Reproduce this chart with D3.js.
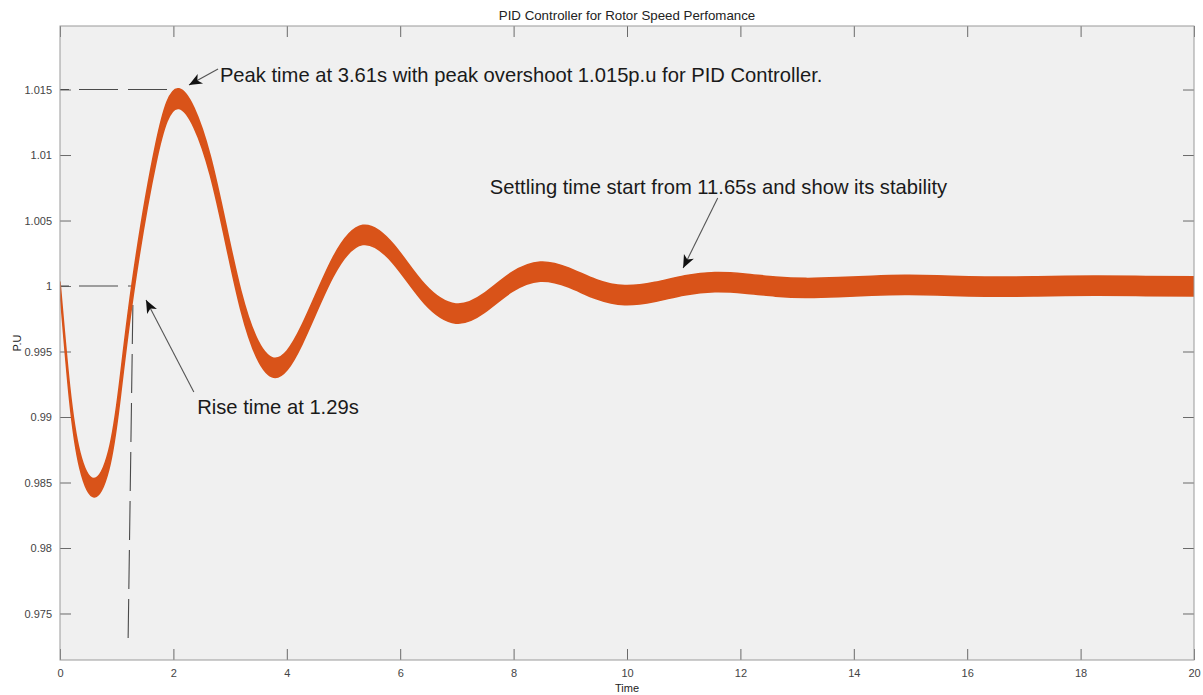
<!DOCTYPE html>
<html>
<head>
<meta charset="utf-8">
<script src="https://cdn.jsdelivr.net/npm/d3@7"></script>
<style>
  body { margin: 0; background: #fff; }
  svg { display: block; font-family: "Liberation Sans", Arial, Helvetica, sans-serif; }
</style>
</head>
<body>
<svg id="chart" width="1203" height="695"></svg>
<script>
// rotor speed response (p.u): band centre and half thickness
var timeS = [0, 0.17, 0.35, 0.6, 0.86, 1.05, 1.29, 1.69, 2.1, 2.65, 3.19, 3.74, 4.27, 4.81, 5.34,
  5.89, 6.43, 6.98, 7.48, 7.97, 8.47, 8.97, 9.46, 9.96, 10.49, 11.02, 11.55, 12.08, 12.62, 13.15,
  13.73, 14.32, 14.9, 15.47, 16.03, 16.6, 17.17, 17.73, 18.3, 19.15, 20];
var speedPU = [1.0, 0.9918, 0.9867, 0.9846, 0.9867, 0.9918, 1.0, 1.0101, 1.0143, 1.0092, 0.9989, 0.9938, 0.9963, 1.0014, 1.0039,
  1.0024, 0.9994, 0.9979, 0.9987, 1.0003, 1.0011, 1.00065, 0.99975, 0.9993, 0.99955, 1.00005, 1.0003, 1.00019, 0.99996, 0.99985,
  0.99991, 1.00002, 1.00008, 1.00005, 0.99998, 0.99995, 0.99997, 1.00001, 1.00003, 1.0, 0.99998];
var bandPU = [0.0003, 0.0005, 0.0006, 0.0007, 0.00072, 0.00073, 0.00073, 0.00073, 0.00075, 0.00073, 0.00073, 0.00073, 0.00073, 0.00073, 0.00073,
  0.00073, 0.00073, 0.00073, 0.00073, 0.00073, 0.00073, 0.00073, 0.00073, 0.00073, 0.00073, 0.00073, 0.00073, 0.00073, 0.00073, 0.00073,
  0.00073, 0.00073, 0.00073, 0.00073, 0.00073, 0.00073, 0.00073, 0.00073, 0.00073, 0.00073, 0.00073];

var xTicks = [0, 2, 4, 6, 8, 10, 12, 14, 16, 18, 20];
var yTicks = [0.975, 0.98, 0.985, 0.99, 0.995, 1, 1.005, 1.01, 1.015];

var noteText = [
  "Peak time at 3.61s with peak overshoot 1.015p.u for PID Controller.",
  "Settling time start from 11.65s and show its stability",
  "Rise time at 1.29s"
];
var noteAt = [[2.82, 1.01557], [7.58, 1.00702], [2.42, 0.99023]];
var arrowFrom = [[2.787, 1.01657], [11.6, 1.00672], [2.36, 0.99191]];
var arrowTo = [[2.275, 1.01534], [10.99, 1.00137], [1.517, 0.99893]];

// dashed guides: peak level, 1 p.u level, rise time
var guides = [
  [[0, 1.015], [2.06, 1.015]],
  [[0, 1.0], [1.25, 1.0]],
  [[1.29, 1.0], [1.2, 0.9726]]
];

var svg = d3.select("#chart");
var mLeft = 60, mTop = 26, W = 1134, H = 634;

var x = d3.scaleLinear().domain([0, 20]).range([mLeft, mLeft + W]);
var y = d3.scaleLinear().domain([0.97145, 1.01985]).range([mTop + H, mTop]);

svg.append("rect")
  .attr("x", mLeft).attr("y", mTop).attr("width", W).attr("height", H)
  .attr("fill", "#f0f0f0");

var defs = svg.append("defs");
defs.append("clipPath").attr("id", "plotclip")
  .append("rect").attr("x", mLeft).attr("y", mTop).attr("width", W).attr("height", H);

defs.append("marker")
  .attr("id", "head")
  .attr("viewBox", "-14 -7 16 14")
  .attr("markerWidth", 16).attr("markerHeight", 14)
  .attr("markerUnits", "userSpaceOnUse")
  .attr("refX", 0).attr("refY", 0)
  .attr("orient", "auto")
  .append("path")
  .attr("d", "M0,0 L-13,-5.5 L-9.5,0 L-13,5.5 Z")
  .attr("fill", "#111");

var tickCol = "#6a6a6a", labelCol = "#444";

function styleAxis(g) {
  g.select(".domain").remove();
  g.selectAll(".tick line").attr("stroke", tickCol);
  g.selectAll(".tick text").attr("fill", labelCol).style("font-size", "11px");
}

svg.append("g")
  .attr("transform", "translate(0," + (mTop + H) + ")")
  .call(d3.axisBottom(x).tickValues(xTicks).tickSizeInner(-11).tickSizeOuter(0).tickPadding(9)
    .tickFormat(d3.format("d")))
  .call(styleAxis);

svg.append("g")
  .attr("transform", "translate(0," + mTop + ")")
  .call(d3.axisTop(x).tickValues(xTicks).tickSizeInner(-11).tickSizeOuter(0).tickFormat(""))
  .call(styleAxis);

svg.append("g")
  .attr("transform", "translate(" + mLeft + ",0)")
  .call(d3.axisLeft(y).tickValues(yTicks).tickSizeInner(-11).tickSizeOuter(0).tickPadding(8)
    .tickFormat(function(d) { return String(+d.toFixed(3)); }))
  .call(styleAxis);

svg.append("g")
  .attr("transform", "translate(" + (mLeft + W) + ",0)")
  .call(d3.axisRight(y).tickValues(yTicks).tickSizeInner(-11).tickSizeOuter(0).tickFormat(""))
  .call(styleAxis);

// dashed guides
svg.append("g")
  .selectAll("line")
  .data(guides)
  .enter().append("line")
  .attr("x1", function(d) { return x(d[0][0]); })
  .attr("y1", function(d) { return y(d[0][1]); })
  .attr("x2", function(d) { return x(d[1][0]); })
  .attr("y2", function(d) { return y(d[1][1]); })
  .attr("stroke", "#4a4a4a")
  .attr("stroke-width", 1.1)
  .attr("stroke-dasharray", "39,10")
  .attr("stroke-dashoffset", 30);

// the response band
var pts = timeS.map(function(t, i) { return { t: t, v: speedPU[i], h: bandPU[i] }; });

var band = d3.area()
  .curve(d3.curveNatural)
  .x(function(d) { return x(d.t); })
  .y0(function(d) { return y(d.v - d.h); })
  .y1(function(d) { return y(d.v + d.h); });

svg.append("path")
  .datum(pts)
  .attr("clip-path", "url(#plotclip)")
  .attr("d", band)
  .attr("fill", "#d95319")
  .attr("stroke", "#d95319")
  .attr("stroke-width", 1.6)
  .attr("stroke-linejoin", "round");

// box
svg.append("rect")
  .attr("x", mLeft).attr("y", mTop).attr("width", W).attr("height", H)
  .attr("fill", "none").attr("stroke", "#9a9a9a").attr("stroke-width", 1);

// annotations
svg.append("g")
  .selectAll("line")
  .data(arrowFrom)
  .enter().append("line")
  .attr("x1", function(d) { return x(d[0]); })
  .attr("y1", function(d) { return y(d[1]); })
  .attr("x2", function(d, i) { return x(arrowTo[i][0]); })
  .attr("y2", function(d, i) { return y(arrowTo[i][1]); })
  .attr("stroke", "#555")
  .attr("stroke-width", 1.1)
  .attr("marker-end", "url(#head)");

svg.append("g")
  .selectAll("text")
  .data(noteText)
  .enter().append("text")
  .attr("x", function(d, i) { return x(noteAt[i][0]); })
  .attr("y", function(d, i) { return y(noteAt[i][1]); })
  .attr("fill", "#1a1a1a")
  .style("font-size", "20.2px")
  .text(function(d) { return d; });

svg.append("text")
  .attr("x", mLeft + W / 2).attr("y", 20)
  .attr("text-anchor", "middle")
  .attr("fill", "#222")
  .style("font-size", "13.3px")
  .text("PID Controller for Rotor Speed Perfomance");

svg.append("text")
  .attr("x", mLeft + W / 2).attr("y", 692)
  .attr("text-anchor", "middle")
  .attr("fill", "#222")
  .style("font-size", "11px")
  .text("Time");

svg.append("text")
  .attr("transform", "translate(21," + (mTop + H / 2) + ") rotate(-90)")
  .attr("text-anchor", "middle")
  .attr("fill", "#222")
  .style("font-size", "11px")
  .text("P.U");
</script>
</body>
</html>
